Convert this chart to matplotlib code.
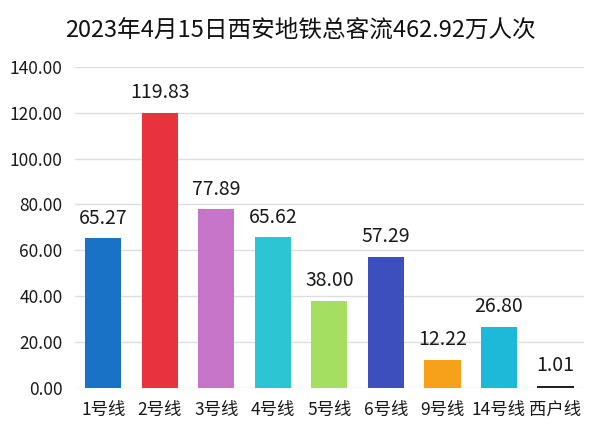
import matplotlib
matplotlib.use("Agg")
import matplotlib.pyplot as plt
import numpy as np

plt.rcParams['font.family'] = ['Noto Sans CJK SC', 'DejaVu Sans']

lines = ["1号线", "2号线", "3号线", "4号线", "5号线", "6号线", "9号线", "14号线", "西户线"]
flow = [65.27, 119.83, 77.89, 65.62, 38.00, 57.29, 12.22, 26.80, 1.01]
colors = ["#1a72c6", "#e8323e", "#c775c8", "#2cc5d3", "#a4df62",
          "#3c4fbd", "#f7a11b", "#1cb9d9", "#222222"]
title = "2023年4月15日西安地铁总客流462.92万人次"

fig = plt.figure(figsize=(6, 4.34), dpi=100)
ax = fig.add_axes([0.125, 0.106, 0.848, 0.740])

x = np.arange(len(lines))
ax.bar(x, flow, width=0.64, color=colors, zorder=2)
for xi, v in zip(x, flow):
    ax.annotate(f"{v:.2f}", (xi, v), xytext=(0, 7), textcoords="offset points",
                ha="center", va="bottom", fontsize=14, color="#1a1a1a")

ax.set_xlim(-0.5, len(lines) - 0.5)
ax.set_ylim(0, 140)
ax.set_yticks(np.arange(0, 141, 20))
ax.set_yticklabels([f"{t:.2f}" for t in np.arange(0, 141, 20)], fontsize=12.5, color="#1a1a1a")
ax.set_xticks(x)
ax.set_xticklabels(lines, fontsize=12.5, color="#1a1a1a")
ax.tick_params(axis="both", length=0, pad=9)
ax.grid(axis="y", color="#dedede", linewidth=1, zorder=0)
for s in ax.spines.values():
    s.set_visible(False)

fig.text(0.5, 0.93, title, ha="center", va="center", fontsize=17,
         fontweight="medium", color="#111111")

fig.savefig("out.png", dpi=100)
